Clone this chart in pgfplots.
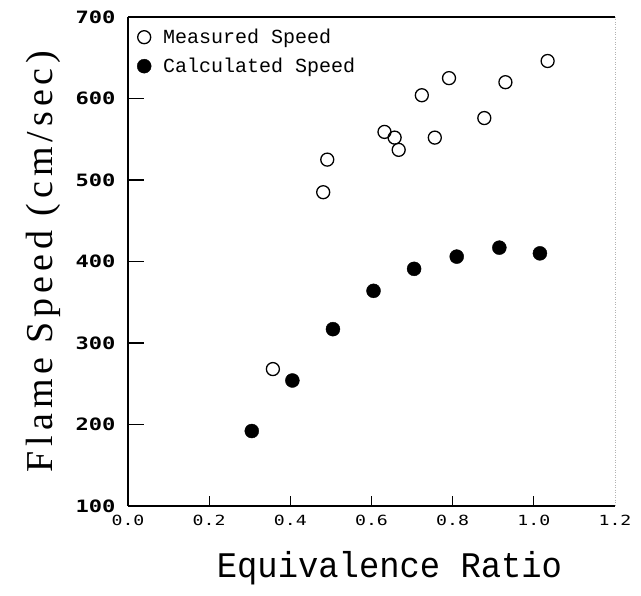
\documentclass[border=0pt]{standalone}
\usepackage{pgfplots}
\pgfplotsset{compat=1.18}
\usepackage{fontspec}
\setmainfont{Liberation Serif}
\newfontfamily\tickfont[FakeStretch=1.3]{DejaVu Sans Mono}
\newfontfamily\legfont{Liberation Mono}
\newfontfamily\xlabfont[FakeStretch=0.94]{Liberation Mono}
\newfontfamily\ylabfont[LetterSpace=13]{Liberation Serif}
\begin{document}
\begin{tikzpicture}
\path (0pt,0pt) rectangle (641pt,596pt);
\begin{axis}[
  at={(128pt,90pt)}, anchor=south west,
  scale only axis, width=487pt, height=489pt,
  xmin=0, xmax=1.2, ymin=100, ymax=700,
  xtick={0,0.2,...,1.2}, ytick={100,200,...,700},
  xticklabels={0.0,0.2,0.4,0.6,0.8,1.0,1.2},
  yticklabels={100,200,300,400,500,600,700},
  axis x line*=bottom, axis y line*=left,
  axis line style={line width=1.3pt, -},
  major tick length=0pt,
  xticklabel style={font=\fontsize{14}{16}\tickfont, yshift=-6pt},
  yticklabel style={font=\fontsize{17}{20}\tickfont\bfseries, xshift=-9pt},
  xlabel={\xlabfont Equivalence Ratio},
  xlabel style={font=\fontsize{36}{40}\selectfont, yshift=-18pt, xshift=18pt},
  ylabel={\ylabfont Flame Speed (cm/sec)},
  ylabel style={font=\fontsize{38}{40}\selectfont, yshift=8pt},
  legend style={at={(0,1)}, anchor=north west, draw=none, fill=none,
    font=\fontsize{20}{22}\legfont, xshift=6pt, yshift=-8pt,
    row sep=9pt},
  legend cell align=left,
  clip=false,
]
\draw[line width=1.3pt] (rel axis cs:0,1) -- (rel axis cs:1,1);
\draw[line width=0.5pt, gray!60, dotted] (rel axis cs:1,1) -- (rel axis cs:1,0);
\draw[line width=1.4pt] (rel axis cs:0,0.16667) -- (rel axis cs:0.033,0.16667);
\draw[line width=1.4pt] (rel axis cs:0,0.33333) -- (rel axis cs:0.033,0.33333);
\draw[line width=1.4pt] (rel axis cs:0,0.5) -- (rel axis cs:0.033,0.5);
\draw[line width=1.4pt] (rel axis cs:0,0.66667) -- (rel axis cs:0.033,0.66667);
\draw[line width=1.4pt] (rel axis cs:0,0.83333) -- (rel axis cs:0.033,0.83333);
\draw[line width=0.9pt] (rel axis cs:0.16667,0) -- (rel axis cs:0.16667,0.02);
\draw[line width=0.9pt] (rel axis cs:0.33333,0) -- (rel axis cs:0.33333,0.02);
\draw[line width=0.9pt] (rel axis cs:0.5,0) -- (rel axis cs:0.5,0.02);
\draw[line width=0.9pt] (rel axis cs:0.66667,0) -- (rel axis cs:0.66667,0.02);
\draw[line width=0.9pt] (rel axis cs:0.83333,0) -- (rel axis cs:0.83333,0.02);
\addplot[only marks, mark=o, mark size=6.5pt, mark options={line width=1.3pt, black}]
 coordinates {
 (0.357,268) (0.481,485) (0.491,525) (0.632,559) (0.657,552) (0.667,537)
 (0.724,604) (0.756,552) (0.791,625) (0.878,576) (0.930,620) (1.034,646)
 };
\addlegendentry{\hspace{10pt}Measured Speed}
\addplot[only marks, mark=*, mark size=7pt, mark options={black, fill=black}]
 coordinates {
 (0.305,192) (0.405,254) (0.505,317) (0.605,364) (0.705,391)
 (0.810,406) (0.915,417) (1.015,410)
 };
\addlegendentry{\hspace{10pt}Calculated Speed}
\end{axis}
\end{tikzpicture}
\end{document}
